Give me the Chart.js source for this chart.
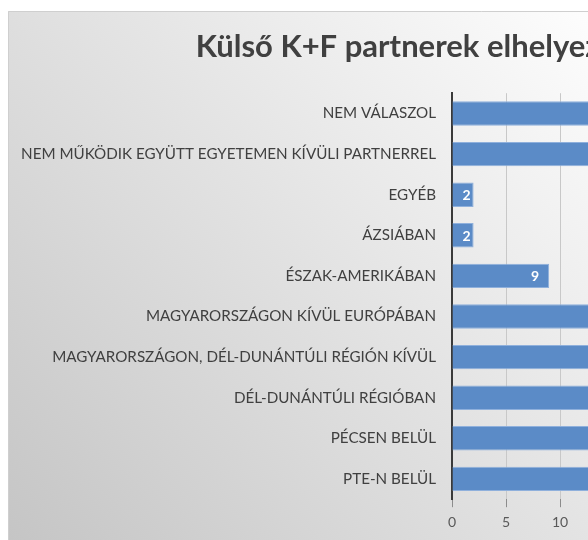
<!DOCTYPE html>
<html>
<head>
<meta charset="utf-8">
<script src="https://cdn.jsdelivr.net/npm/chart.js@4.4.0/dist/chart.umd.min.js"></script>
<style>
  html, body { margin: 0; padding: 0; background: #fff; overflow: hidden; }
  #wrap { position: absolute; left: 8px; top: 11px; width: 580px; height: 529px; overflow: hidden; }
</style>
</head>
<body>
<div id="wrap"><canvas id="grafico" width="946" height="529"></canvas></div>
<script>
// kategoriak felulrol lefele, ahogy a kepen latszik
const kategoriak = [
  "NEM VÁLASZOL",
  "NEM MŰKÖDIK EGYÜTT EGYETEMEN KÍVÜLI PARTNERREL",
  "EGYÉB",
  "ÁZSIÁBAN",
  "ÉSZAK-AMERIKÁBAN",
  "MAGYARORSZÁGON KÍVÜL EURÓPÁBAN",
  "MAGYARORSZÁGON, DÉL-DUNÁNTÚLI RÉGIÓN KÍVÜL",
  "DÉL-DUNÁNTÚLI RÉGIÓBAN",
  "PÉCSEN BELÜL",
  "PTE-N BELÜL"
];
// a hosszu oszlopok vege kilog a kepbol, ezek becsult ertekek
const darab = [20, 17, 2, 2, 9, 25, 28, 27, 30, 32];
const xTicks = [0, 5, 10, 15, 20, 25, 30, 35, 40];
const cim = "Külső K+F partnerek elhelyezkedése";

const fonte = "Lato, 'Open Sans', sans-serif";

const fundo = {
  id: "fundo",
  beforeDraw(chart) {
    const ctx = chart.ctx;
    const w = chart.width, h = chart.height;
    const g = ctx.createLinearGradient(580, 0, 0, h);
    g.addColorStop(0, "#fdfdfd");
    g.addColorStop(1, "#c5c5c5");
    ctx.save();
    ctx.fillStyle = g;
    ctx.fillRect(0, 0, w, h);
    ctx.strokeStyle = "#cfcfcf";
    ctx.lineWidth = 1;
    ctx.beginPath();
    ctx.moveTo(0.5, h);
    ctx.lineTo(0.5, 0.5);
    ctx.lineTo(w, 0.5);
    ctx.stroke();
    ctx.restore();
  }
};

const rotulos = {
  id: "rotulos",
  afterDatasetsDraw(chart) {
    const ctx = chart.ctx;
    const meta = chart.getDatasetMeta(0);
    ctx.save();
    ctx.font = "bold 14px " + fonte;
    ctx.fillStyle = "#ffffff";
    ctx.textAlign = "right";
    ctx.textBaseline = "middle";
    meta.data.forEach(function (bar, i) {
      const txt = String(darab[i]);
      const w = ctx.measureText(txt).width;
      const x = Math.max(bar.x - 10, bar.base + w + 10);
      ctx.fillText(txt, x, bar.y + 1);
    });
    ctx.restore();
  }
};

const ctx = document.getElementById("grafico").getContext("2d");
window.grafico = new Chart(ctx, {
  type: "bar",
  data: {
    labels: kategoriak,
    datasets: [{
      data: darab,
      backgroundColor: "#5b8bc7",
      borderColor: "#8fb0dc",
      borderWidth: 1,
      barPercentage: 0.6,
      categoryPercentage: 1
    }]
  },
  options: {
    responsive: false,
    animation: false,
    indexAxis: "y",
    layout: { padding: { left: 0, right: 70, top: 0, bottom: 2 } },
    plugins: {
      legend: { display: false },
      tooltip: { enabled: false },
      title: {
        display: true,
        text: cim,
        color: "#404040",
        font: { family: fonte, size: 31, weight: "bold" },
        padding: { top: 17, bottom: 28 }
      }
    },
    scales: {
      x: {
        min: 0,
        max: 40,
        afterBuildTicks: function (s) { s.ticks = xTicks.map(v => ({ value: v })); },
        grid: { color: "#c8c8c8", tickColor: "#8c8c8c", tickLength: 8 },
        border: { display: false },
        ticks: { color: "#595959", font: { family: fonte, size: 14 }, padding: 7 }
      },
      y: {
        afterFit: function (s) { s.width = 444; },
        grid: { display: false, drawTicks: false },
        border: { display: true, color: "#3a3a3a", width: 2 },
        ticks: { color: "#404040", font: { family: fonte, size: 15.2 }, padding: 16 }
      }
    }
  },
  plugins: [fundo, rotulos]
});
</script>
</body>
</html>
